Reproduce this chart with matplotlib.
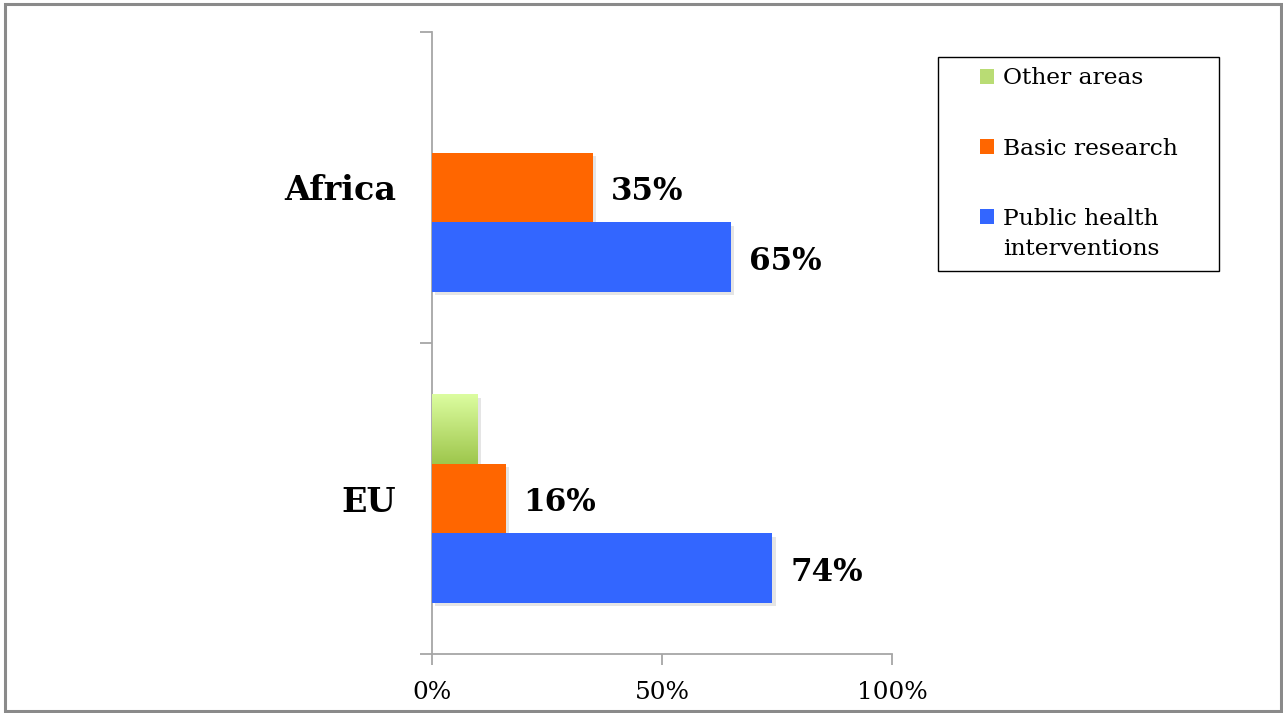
import numpy as np
import matplotlib
matplotlib.use("Agg")
import matplotlib.pyplot as plt
from matplotlib.patches import Rectangle
from matplotlib.transforms import offset_copy
from matplotlib.colors import LinearSegmentedColormap
from matplotlib.ticker import PercentFormatter

# Share of funding by research area
regions = ["EU", "Africa"]
public_health = [0.74, 0.65]
basic_research = [0.16, 0.35]
other_areas = [0.098, 0.0]
value_labels_public = ["74%", "65%"]
value_labels_basic = ["16%", "35%"]
series_names = ["Public health\ninterventions", "Basic research", "Other areas"]
x_ticks = [0.0, 0.5, 1.0]

BLUE = "#3366ff"
ORANGE = "#ff6600"
GREEN_TOP = "#dcfda0"
GREEN_BOTTOM = "#9ec64c"
AXIS_GREY = "#a6a6a6"

plt.rcParams["font.family"] = ["DejaVu Serif"]

fig = plt.figure(figsize=(12.83, 7.13), dpi=100)
ax = fig.add_axes([432 / 1283, 59 / 713, 460 / 1283, 622 / 713])

y = np.arange(len(regions), dtype=float)
h = 0.2235

# soft drop shadows, drawn beneath every bar
shadow_tr = offset_copy(ax.transData, fig=fig, x=2.5, y=-2.5, units="points")
for off, vals in ((-h, public_health), (0.0, basic_research), (h, other_areas)):
    ax.barh(y + off, vals, height=h, color="black", alpha=0.10,
            transform=shadow_tr, zorder=2)

b_pub = ax.barh(y - h, public_health, height=h, color=BLUE, label=series_names[0], zorder=3)
b_bas = ax.barh(y, basic_research, height=h, color=ORANGE, label=series_names[1], zorder=3)
b_oth = ax.barh(y + h, other_areas, height=h, color=GREEN_BOTTOM, label=series_names[2], zorder=3)

# vertical gradient on the "other areas" bars
cmap = LinearSegmentedColormap.from_list("grn", [GREEN_BOTTOM, GREEN_TOP])
grad = np.linspace(0, 1, 256).reshape(-1, 1)
for p in b_oth:
    if p.get_width() <= 0:
        continue
    x0, y0 = p.get_x(), p.get_y()
    im = ax.imshow(grad, cmap=cmap, origin="lower", aspect="auto",
                   extent=(x0, x0 + p.get_width(), y0, y0 + p.get_height()), zorder=4)
    im.set_clip_path(p)

# value labels
for bars, labels in ((b_pub, value_labels_public), (b_bas, value_labels_basic)):
    for p, lab in zip(bars, labels):
        ax.annotate(lab, (p.get_width(), p.get_y() + p.get_height() / 2),
                    xytext=(13, -3.2), textcoords="offset points",
                    ha="left", va="center", fontsize=22.3, fontweight="bold", color="black")

ax.set_xlim(0, 1)
ax.set_ylim(-0.5, 1.5)

ax.set_xticks(x_ticks)
ax.xaxis.set_major_formatter(PercentFormatter(1.0, decimals=0))
ax.tick_params(axis="x", direction="out", length=8, width=1.3, color=AXIS_GREY,
               labelsize=17.8, pad=11.5)

ax.set_yticks(y)
ax.set_yticklabels(regions, fontsize=24, fontweight="bold")
ax.set_yticks([-0.5, 0.5, 1.5], minor=True)
ax.tick_params(axis="y", which="major", length=0, pad=26)
ax.tick_params(axis="y", which="minor", direction="out", length=8.6, width=1.3, color=AXIS_GREY)

for s in ("top", "right"):
    ax.spines[s].set_visible(False)
for s in ("left", "bottom"):
    ax.spines[s].set_color(AXIS_GREY)
    ax.spines[s].set_linewidth(1.3)

# legend
fs = 16.8
handles = [b_oth, b_bas, b_pub]
labels = [series_names[2], series_names[1], series_names[0]]
hl = 1.97
leg = fig.legend(handles, labels, loc="upper left",
                 bbox_to_anchor=(938 / 1283, 1 - 57 / 713, 281 / 1283, 0.0),
                 mode="expand", borderaxespad=0, fontsize=fs, frameon=True,
                 fancybox=False, edgecolor="black", framealpha=1,
                 handlelength=hl, handleheight=0.7, handletextpad=0.35,
                 borderpad=0.45, labelspacing=2.06)
leg.get_frame().set_linewidth(1.0)
for t in leg.get_texts():
    t.set_linespacing(1.52)
sq = 0.63 * fs
for i, hpatch in enumerate(leg.legend_handles):
    y0 = hpatch.get_y() + (0.7 * fs - sq) / 2
    if i == 2:
        y0 += 0.76 * fs
    hpatch.set_bounds(hl * fs - sq, y0, sq, sq)
    if i == 0:
        hpatch.set_facecolor("#b9dc74")

# outer frame
fig.patches.append(Rectangle((4.5 / 1283, 2.5 / 713), 1276.5 / 1283, 706.5 / 713,
                             transform=fig.transFigure, fill=False,
                             edgecolor="#8a8a8a", linewidth=2.2))

fig.savefig("out.png", dpi=100)
